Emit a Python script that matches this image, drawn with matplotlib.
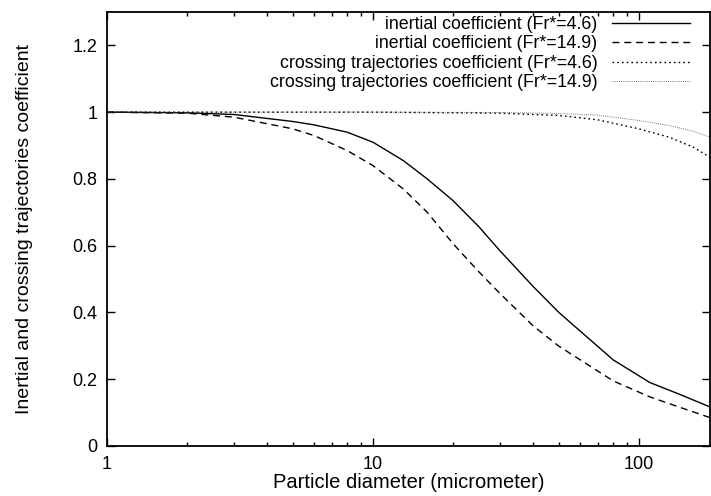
import matplotlib
matplotlib.use("Agg")
import matplotlib.pyplot as plt
from matplotlib.ticker import LogLocator, NullFormatter, FixedLocator

plt.rcParams["font.family"] = ["Liberation Sans", "DejaVu Sans"]

# particle diameter (micrometer)
diam = [1, 2, 3, 5, 6, 8, 10, 13, 16, 20, 25, 30, 40, 50, 80, 110, 140, 185]
inertial_46 = [1.0, 0.998, 0.993, 0.972, 0.962, 0.94, 0.91, 0.855, 0.8, 0.735,
               0.657, 0.585, 0.478, 0.40, 0.258, 0.19, 0.157, 0.117]
inertial_149 = [1.0, 0.997, 0.985, 0.95, 0.93, 0.885, 0.84, 0.77, 0.7, 0.606,
                0.522, 0.457, 0.36, 0.299, 0.195, 0.147, 0.118, 0.085]

diam_ct = [1, 10, 30, 50, 70, 100, 130, 160, 185]
crossing_46 = [1.0, 1.0, 0.997, 0.99, 0.977, 0.95, 0.925, 0.895, 0.865]
crossing_149 = [1.0, 1.0, 0.999, 0.996, 0.991, 0.975, 0.96, 0.943, 0.925]

labels = [
    "inertial coefficient (Fr*=4.6)",
    "inertial coefficient (Fr*=14.9)",
    "crossing trajectories coefficient (Fr*=4.6)",
    "crossing trajectories coefficient (Fr*=14.9)",
]

fig = plt.figure(figsize=(7.11, 4.96), dpi=100)
ax = fig.add_axes([107 / 711, 1 - 446 / 496, 603 / 711, 434 / 496])

ax.plot(diam, inertial_46, color="black", lw=1.0, label=labels[0])
ax.plot(diam, inertial_149, color="black", lw=1.0, dashes=(5, 3.5), label=labels[1])
ax.plot(diam_ct, crossing_46, color="black", lw=1.0, dashes=(1.2, 2.2), label=labels[2])
ax.plot(diam_ct, crossing_149, color="#555555", lw=0.7, dashes=(0.8, 1.4), label=labels[3])

ax.set_xscale("log")
ax.set_xlim(1, 185)
ax.set_ylim(0, 1.3)
ax.xaxis.set_major_locator(FixedLocator([1, 10, 100]))
ax.set_xticklabels(["1", "10", "100"])
ax.xaxis.set_minor_locator(LogLocator(base=10, subs=range(2, 10)))
ax.xaxis.set_minor_formatter(NullFormatter())
ax.set_yticks([0, 0.2, 0.4, 0.6, 0.8, 1, 1.2])
ax.set_yticklabels(["0", "0.2", "0.4", "0.6", "0.8", "1", "1.2"])

ax.tick_params(which="both", direction="in", top=True, right=True,
               labelsize=13, width=1.0)
ax.tick_params(which="major", length=6, pad=7)
ax.tick_params(which="minor", length=3)
for s in ax.spines.values():
    s.set_linewidth(1.3)

ax.set_xlabel("Particle diameter (micrometer)", fontsize=14.5, labelpad=0)
ax.set_ylabel("Inertial and crossing trajectories coefficient", fontsize=14, labelpad=28)

ax.legend(loc="upper right", bbox_to_anchor=(1 - 20 / 603, 1 - 4 / 434),
          frameon=False, markerfirst=False, fontsize=12.8, handlelength=4.4,
          handletextpad=0.8, labelspacing=0.14, borderpad=0, borderaxespad=0)

fig.savefig("out.png", dpi=100)
